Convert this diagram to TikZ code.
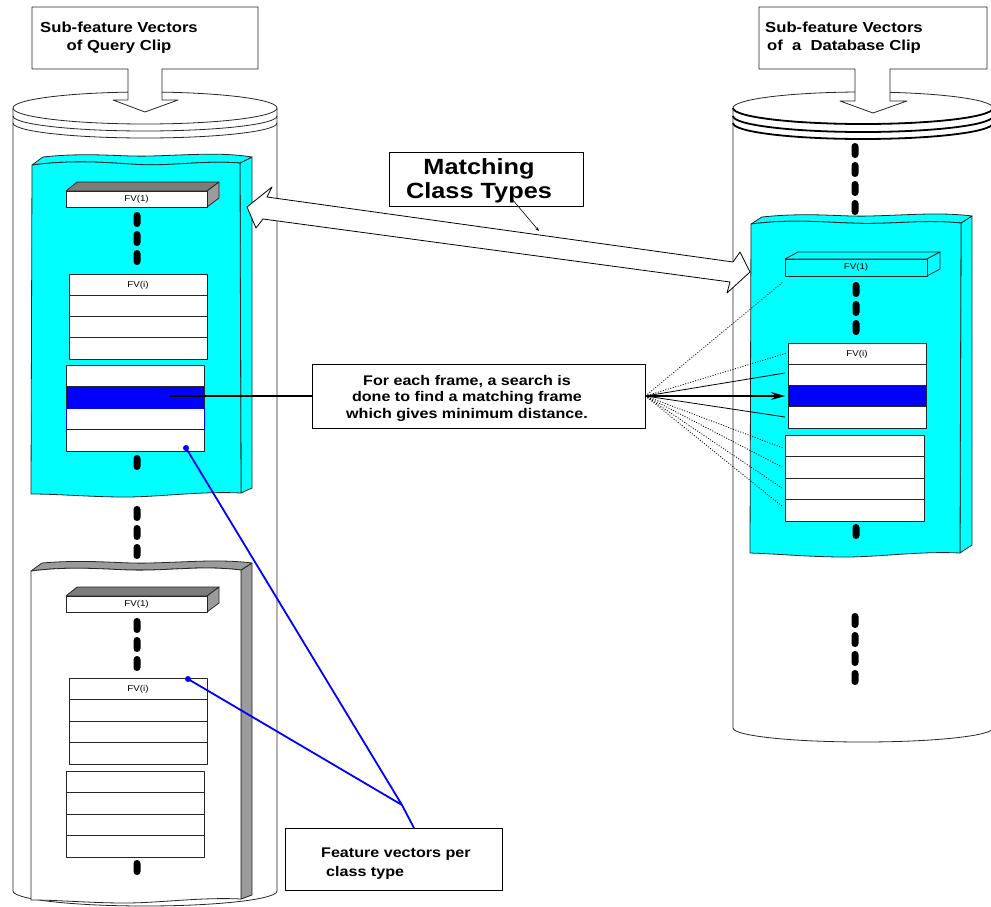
\documentclass[tikz,border=0pt]{standalone}
\usepackage{fontspec}
\setmainfont{Liberation Sans}[FakeStretch=1.15]
\usetikzlibrary{arrows.meta}
\definecolor{cy}{RGB}{0,255,255}
\definecolor{bl}{RGB}{0,0,255}
\definecolor{gr}{RGB}{155,155,155}
\newcommand\lowhalf[4]{({#1-#3},{#2}) .. controls ({#1-#3},{#2+0.5523*#4}) and ({#1-0.5523*#3},{#2+#4}) .. ({#1},{#2+#4}) .. controls ({#1+0.5523*#3},{#2+#4}) and ({#1+#3},{#2+0.5523*#4}) .. ({#1+#3},{#2})}
\newcommand\fvtab[4]{\draw[rowbox] (#1,#2) rectangle (#3,#4);
  \foreach \k in {1,2,3}{\draw[rowline] (#1,{#2+\k*(#4-#2)/4}) -- (#3,{#2+\k*(#4-#2)/4});}}
% column of thick rounded dashes: x, top y, count
\newcommand\dashcol[3]{\foreach \k in {1,...,#3}{\fill[black, rounded corners=3.4pt] ({#1-3.5},{#2+19*(\k-1)}) rectangle ({#1+3.5},{#2+15+19*(\k-1)});}}
\tikzset{
  cyl/.style={draw=black!85, line width=0.8pt},
  rowbox/.style={draw=black!85, fill=white, line width=0.8pt},
  rowline/.style={draw=black!85, line width=0.8pt},
  blockline/.style={draw=black!85, line width=0.8pt},
  fine/.style={line width=0.8pt},
  dotl/.style={line width=0.8pt, dash pattern=on 1pt off 1.6pt},
  fvlab/.style={font=\fontsize{8.5}{9}\selectfont, inner sep=0pt},
  lbl/.style={font=\bfseries\fontsize{14.5}{18.5}\selectfont, align=center, inner sep=0pt},
  bluel/.style={draw=bl, line width=1.8pt},
}
\begin{document}
\begin{tikzpicture}[x=1pt,y=-1pt,line join=round]
\fill[white] (0,0) rectangle (991,907);
\useasboundingbox (0,0) rectangle (991,907);

% ---------- left cylinder ----------
\draw[cyl] (13,108) -- \lowhalf{145}{891}{132}{15} -- (277,108);
\draw[cyl, fill=white] (145,108) ellipse[x radius=132, y radius=16];
\draw[cyl] \lowhalf{145}{116}{132}{15};
\draw[cyl] \lowhalf{145}{123}{132}{15};

% ---------- right cylinder ----------
\draw[cyl] (733,108) -- \lowhalf{863}{728}{130}{14} -- (993,108);
\draw[cyl, fill=white] (863,108) ellipse[x radius=130, y radius=16];
\draw[line width=1.8pt] \lowhalf{863}{108}{130}{16};
\draw[line width=1.8pt] \lowhalf{863}{116}{130}{16};
\draw[line width=1.8pt] \lowhalf{863}{123}{130}{16};

% ---------- callouts ----------
\draw[cyl, fill=white] (32,7) -- (258,7) -- (258,69) -- (162,69) -- (162,100) -- (178,100) -- (145,112) -- (113,100) -- (128,100) -- (128,69) -- (32,69) -- cycle;
\node[lbl] (qlab) at (119,38) {Sub-feature Vectors\\of Query Clip};
\draw[cyl, fill=white] (759,7) -- (987,7) -- (987,69) -- (890,69) -- (890,101) -- (907,101) -- (873,113) -- (840,101) -- (855,101) -- (855,69) -- (759,69) -- cycle;
\node[lbl] (dlab) at (844,38) {Sub-feature Vectors\\of\ \ a\ \ Database Clip};

% ---------- left cyan block ----------
\filldraw[fill=cy, blockline] (240,163) -- (252,157) -- (252,488) -- (241,493) -- cycle;
\filldraw[fill=cy, blockline] (32,165) .. controls (70,160) and (100,162) .. (130,164) .. controls (170,167) and (200,160) .. (240,163) -- (252,157) .. controls (220,152) and (190,155) .. (150,156) .. controls (120,157) and (90,152) .. (43,157) -- cycle;
\filldraw[fill=cy, blockline] (32,165) .. controls (70,160) and (100,162) .. (130,164) .. controls (170,167) and (200,160) .. (240,163) -- (241,493) .. controls (200,491) and (160,497) .. (125,497) .. controls (90,497) and (60,494) .. (31,494) -- cycle;

% top bar
\filldraw[fill=gr!80!black, blockline] (66,191) -- (77,182) -- (219,182) -- (207,191) -- cycle;
\filldraw[fill=gr, blockline] (207,191) -- (219,182) -- (219,198) -- (207,207) -- cycle;
\draw[rowbox] (66,191) rectangle (207,207);
\node[fvlab] (fva) at (136.5,199) {FV(1)};
\dashcol{137}{212}{3}
\fvtab{69}{274}{207}{359}
\node[fvlab] (fvb) at (138,285) {FV(i)};
\fvtab{66}{365}{204}{451}
\filldraw[fill=bl, draw=black!85, line width=0.8pt] (66,386.5) rectangle (204,408);
\draw[draw=bl, line width=0.8pt] (66,408) rectangle (204,429.5);
\dashcol{137}{455}{1}

\dashcol{137}{506}{3}

% ---------- left gray block ----------
\filldraw[fill=gr, blockline] (241,570) -- (252,563) -- (252,895) -- (241,899) -- cycle;
\filldraw[fill=gr, blockline] (31,571) .. controls (70,566) and (100,569) .. (130,570) .. controls (170,571) and (200,565) .. (241,570) -- (252,563) .. controls (220,559) and (190,562) .. (150,563) .. controls (120,564) and (90,559) .. (42,563) -- cycle;
\filldraw[fill=white, blockline] (31,571) .. controls (70,566) and (100,569) .. (130,570) .. controls (170,571) and (200,565) .. (241,570) -- (241,899) .. controls (200,897) and (160,903) .. (125,903) .. controls (90,903) and (60,900) .. (31,900) -- cycle;
\filldraw[fill=gr!80!black, blockline] (66,596) -- (77,587) -- (219,587) -- (207,596) -- cycle;
\filldraw[fill=gr, blockline] (207,596) -- (219,587) -- (219,603) -- (207,612) -- cycle;
\draw[rowbox] (66,596) rectangle (207,612);
\node[fvlab] (fvc) at (136.5,604) {FV(1)};
\dashcol{137}{618}{3}
\fvtab{69}{678}{207}{764}
\node[fvlab] (fvd) at (138,689) {FV(i)};
\fvtab{66}{771}{204}{857}
\dashcol{137}{860}{1}

% ---------- right cyan block ----------
\dashcol{855}{143}{4}
\filldraw[fill=cy, blockline] (961,223) -- (972,216) -- (972,545) -- (960,553) -- cycle;
\filldraw[fill=cy, blockline] (751,224) .. controls (790,219) and (820,222) .. (850,223) .. controls (890,225) and (920,219) .. (961,223) -- (972,216) .. controls (940,212) and (910,215) .. (870,216) .. controls (840,217) and (810,212) .. (762,217) -- cycle;
\filldraw[fill=cy, blockline] (751,224) .. controls (790,219) and (820,222) .. (850,223) .. controls (890,225) and (920,219) .. (961,223) -- (960,553) .. controls (920,551) and (880,557) .. (845,557) .. controls (810,557) and (780,554) .. (750,553) -- cycle;
\filldraw[fill=cy, blockline] (785,259) -- (798,252) -- (940,252) -- (927,259) -- cycle;
\filldraw[fill=cy, blockline] (927,259) -- (940,252) -- (940,269) -- (927,276) -- cycle;
\filldraw[fill=cy, blockline] (785,259) rectangle (927,276);
\node[fvlab] (fve) at (856,267.5) {FV(1)};
\dashcol{856}{282}{3}
\fvtab{788}{343}{926}{428}
\node[fvlab] (fvf) at (857,354) {FV(i)};
\filldraw[fill=bl, draw=black!85, line width=0.8pt] (788,385.5) rectangle (926,406.75);
\fvtab{785}{435}{924}{521}
\dashcol{856}{524}{1}
\dashcol{855}{613}{4}

% ---------- matching double arrow ----------
\draw[fine, fill=white] (247,207) -- (272,187) -- (267,197) -- (733,262) -- (740,252) -- (750,272) -- (727,293) -- (730,282) -- (263,219) -- (256,228) -- cycle;
\node[draw, fine, minimum width=194pt, minimum height=54pt, inner sep=0pt] (mbox) at (486,179) {};
\node[lbl, font=\bfseries\fontsize{22}{24}\selectfont] (mtxt) at (479,181) {Matching\\Class Types};
\coordinate (mfrom) at (512,199);
\coordinate (mto) at (539,231);
\draw[line width=0.6pt, -{Stealth[length=4pt,width=3pt]}] (mfrom) -- (mto);

% ---------- search box and connectors ----------
\node[draw, fine, fill=white, minimum width=333pt, minimum height=64pt, inner sep=0pt] (sbox) at (478.5,396) {};
\node[lbl, font=\bfseries\fontsize{14}{16.5}\selectfont] (stxt) at (467,398) {For each frame, a search is\\done to find a matching frame\\which gives minimum distance.};
\coordinate (lsrc) at (170,396);
\draw[line width=1.2pt] (lsrc) -- (sbox.west);
\coordinate (t0) at (783,282);
\coordinate (t1) at (787,353);
\coordinate (t2) at (785,373);
\coordinate (t3) at (785,396);
\coordinate (t4) at (785,417);
\coordinate (t5) at (783,448);
\coordinate (t6) at (782,467);
\coordinate (t7) at (782,488);
\coordinate (t8) at (783,507);
\draw[dotl] (sbox.east) -- (t0);
\draw[dotl] (sbox.east) -- (t1);
\draw[fine] (sbox.east) -- (t2);
\draw[line width=1.4pt, -{Stealth[length=14pt,width=8pt]}] (sbox.east) -- (t3);
\draw[fine] (sbox.east) -- (t4);
\draw[dotl] (sbox.east) -- (t5);
\draw[dotl] (sbox.east) -- (t6);
\draw[dotl] (sbox.east) -- (t7);
\draw[dotl] (sbox.east) -- (t8);

% ---------- feature vectors box ----------
\node[draw, fine, fill=white, minimum width=217pt, minimum height=62pt, inner sep=0pt] (fbox) at (393.5,859) {};
\node[lbl, align=left, anchor=west, font=\bfseries\fontsize{14}{19}\selectfont] (ftxt) at (321,864) {Feature vectors per\\\hspace*{5pt}class type};
\coordinate (bc) at (402,805);
\coordinate (bt) at (414,828);
\coordinate (b1) at (186,448);
\coordinate (b2) at (188,679);
\draw[bluel] (b1) -- (bc) -- (b2);
\draw[bluel] (bc) -- (bt);
\fill[bl] (b1) circle[radius=3pt];
\fill[bl] (b2) circle[radius=3pt];
\end{tikzpicture}
\end{document}
